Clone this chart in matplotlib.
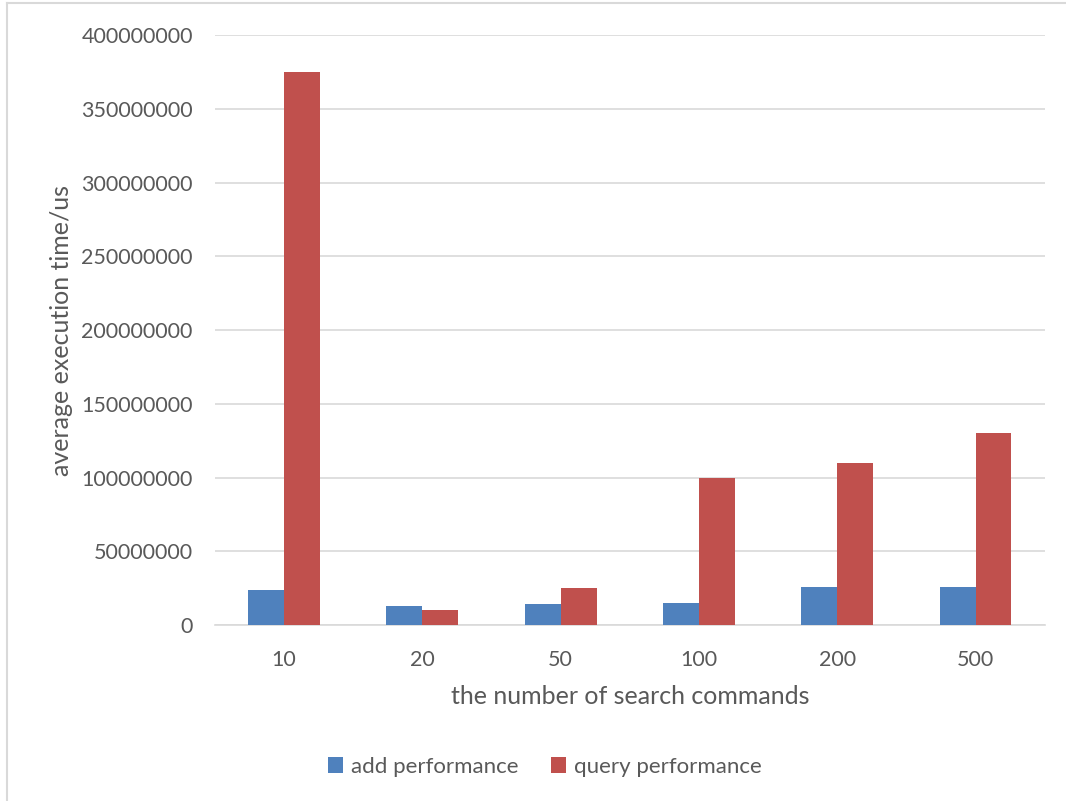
import numpy as np
import matplotlib.pyplot as plt
from matplotlib.lines import Line2D

categories = ["10", "20", "50", "100", "200", "500"]
add_perf = [24000000, 13000000, 14000000, 15000000, 26000000, 26000000]
query_perf = [375000000, 10000000, 25000000, 100000000, 110000000, 130000000]

plt.rcParams["font.family"] = ["Lato", "DejaVu Sans"]
text_color = "#595959"

fig = plt.figure(figsize=(10.66, 8.01), dpi=100)
ax = fig.add_axes([0.2017, 0.2197, 0.7783, 0.7366])

x = np.arange(len(categories))
w = 0.26
ax.bar(x - w / 2, add_perf, w, color="#4F81BD", label="add performance", zorder=3)
ax.bar(x + w / 2, query_perf, w, color="#C0504D", label="query performance", zorder=3)

ax.set_xlim(-0.5, len(categories) - 0.5)
ax.set_ylim(0, 400000000)
ax.set_yticks(np.arange(0, 400000001, 50000000))
ax.set_yticklabels([str(v) for v in range(0, 400000001, 50000000)])
ax.set_xticks(x)
ax.set_xticklabels(categories)
ax.yaxis.grid(True, color="#d9d9d9", linewidth=1.2, zorder=0)
for s in ["top", "right", "left"]:
    ax.spines[s].set_visible(False)
ax.spines["bottom"].set_color("#d9d9d9")
ax.spines["bottom"].set_linewidth(1.2)
ax.tick_params(length=0, labelsize=15.5, labelcolor=text_color)
ax.tick_params(axis="y", pad=16)
ax.tick_params(axis="x", pad=18)

ax.set_xlabel("the number of search commands", fontsize=18, color=text_color, labelpad=11)
ax.set_ylabel("average execution time/us", fontsize=18, color=text_color, labelpad=6)

fig.legend(loc="center", bbox_to_anchor=(0.511, 0.043), ncol=2, frameon=False,
           fontsize=16, labelcolor=text_color, handlelength=0.7, handleheight=0.7,
           handletextpad=0.35, columnspacing=1.45)

# outer chart frame
fig.add_artist(Line2D([7 / 1066, 7 / 1066], [0, 1 - 3 / 801], color="#d9d9d9", lw=1.5))
fig.add_artist(Line2D([7 / 1066, 1], [1 - 3 / 801, 1 - 3 / 801], color="#d9d9d9", lw=1.5))

fig.savefig("out.png", dpi=100)
